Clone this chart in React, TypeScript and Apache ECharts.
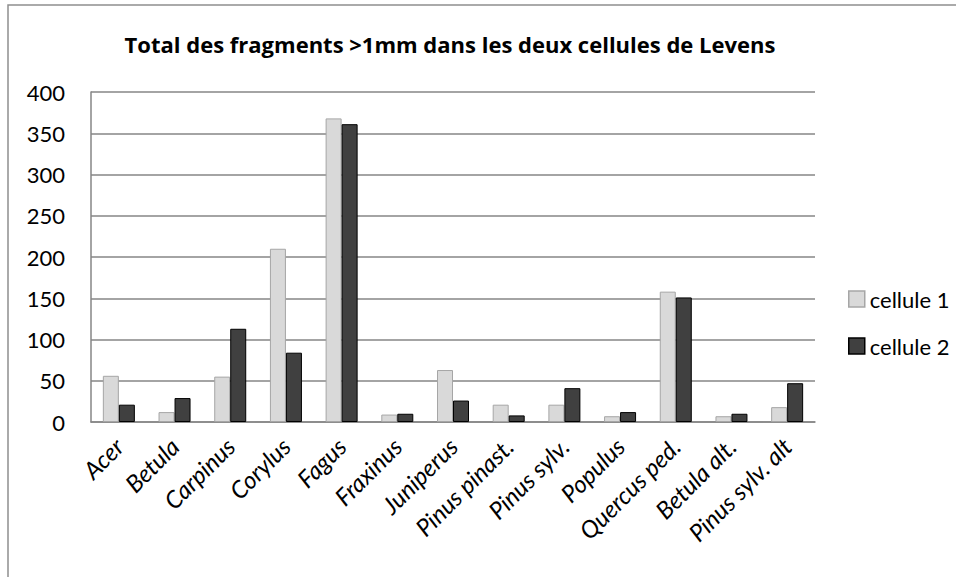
import React, { useEffect, useRef } from "react";
import * as echarts from "echarts";

const categories = [
  "Acer",
  "Betula",
  "Carpinus",
  "Corylus",
  "Fagus",
  "Fraxinus",
  "Juniperus",
  "Pinus pinast.",
  "Pinus sylv.",
  "Populus",
  "Quercus ped.",
  "Betula alt.",
  "Pinus sylv. alt",
];

const cellule1 = [56, 12, 55, 210, 368, 9, 63, 21, 21, 7, 158, 7, 18];
const cellule2 = [21, 29, 113, 84, 361, 10, 26, 8, 41, 12, 151, 10, 47];

const seriesNames = ["cellule 1", "cellule 2"];
const titleText = "Total des fragments >1mm dans les deux cellules de Levens";

const FONT = "Lato, 'Open Sans', sans-serif";
const TITLE_FONT = "'Open Sans', Lato, sans-serif";

export default function App() {
  const ref = useRef<HTMLDivElement>(null);

  useEffect(() => {
    document.body.style.margin = "0";
    if (!ref.current) return;
    const chart = echarts.init(ref.current, null, { renderer: "svg" });
    chart.setOption({
      animation: false,
      backgroundColor: "#ffffff",
      textStyle: { fontFamily: FONT },
      title: {
        text: titleText,
        left: 445,
        textAlign: "center",
        top: 28,
        textStyle: {
          fontFamily: TITLE_FONT,
          fontWeight: "bold",
          fontSize: 22,
          color: "#000",
        },
      },
      graphic: [
        {
          type: "rect",
          shape: { x: 8, y: 5, width: 1000, height: 700 },
          style: { fill: "none", stroke: "#8f8f8f", lineWidth: 1.5 },
          silent: true,
        },
      ],
      legend: {
        orient: "vertical",
        left: 843,
        top: 281,
        itemWidth: 16,
        itemHeight: 16,
        itemGap: 21,
        itemStyle: { borderWidth: 1.5 },
        icon: "rect",
        textStyle: { fontFamily: FONT, fontSize: 22, lineHeight: 26, color: "#000" },
        data: seriesNames,
      },
      grid: {
        left: 91,
        right: 141,
        top: 92,
        bottom: 155,
        containLabel: false,
      },
      xAxis: {
        type: "category",
        data: categories,
        axisLine: { lineStyle: { color: "#868686", width: 1.5 } },
        axisTick: { show: false },
        axisLabel: {
          interval: 0,
          rotate: 45,
          margin: 20,
          fontFamily: FONT,
          fontStyle: "italic",
          fontSize: 24,
          color: "#000",
        },
      },
      yAxis: {
        type: "value",
        min: 0,
        max: 400,
        interval: 50,
        axisLine: { show: true, lineStyle: { color: "#868686", width: 1.5 } },
        axisTick: { show: false },
        splitLine: { lineStyle: { color: "#868686", width: 1.5 } },
        axisLabel: {
          margin: 26,
          fontFamily: FONT,
          fontSize: 22,
          color: "#000",
        },
      },
      series: [
        {
          name: seriesNames[0],
          type: "bar",
          data: cellule1,
          barWidth: 16,
          barGap: "0%",
          itemStyle: { color: "#d9d9d9", borderColor: "#a6a6a6", borderWidth: 1 },
        },
        {
          name: seriesNames[1],
          type: "bar",
          data: cellule2,
          barWidth: 16,
          barGap: "0%",
          itemStyle: { color: "#404040", borderColor: "#000000", borderWidth: 1 },
        },
      ],
    });
    return () => chart.dispose();
  }, []);

  return <div ref={ref} style={{ width: 956, height: 577 }} />;
}
